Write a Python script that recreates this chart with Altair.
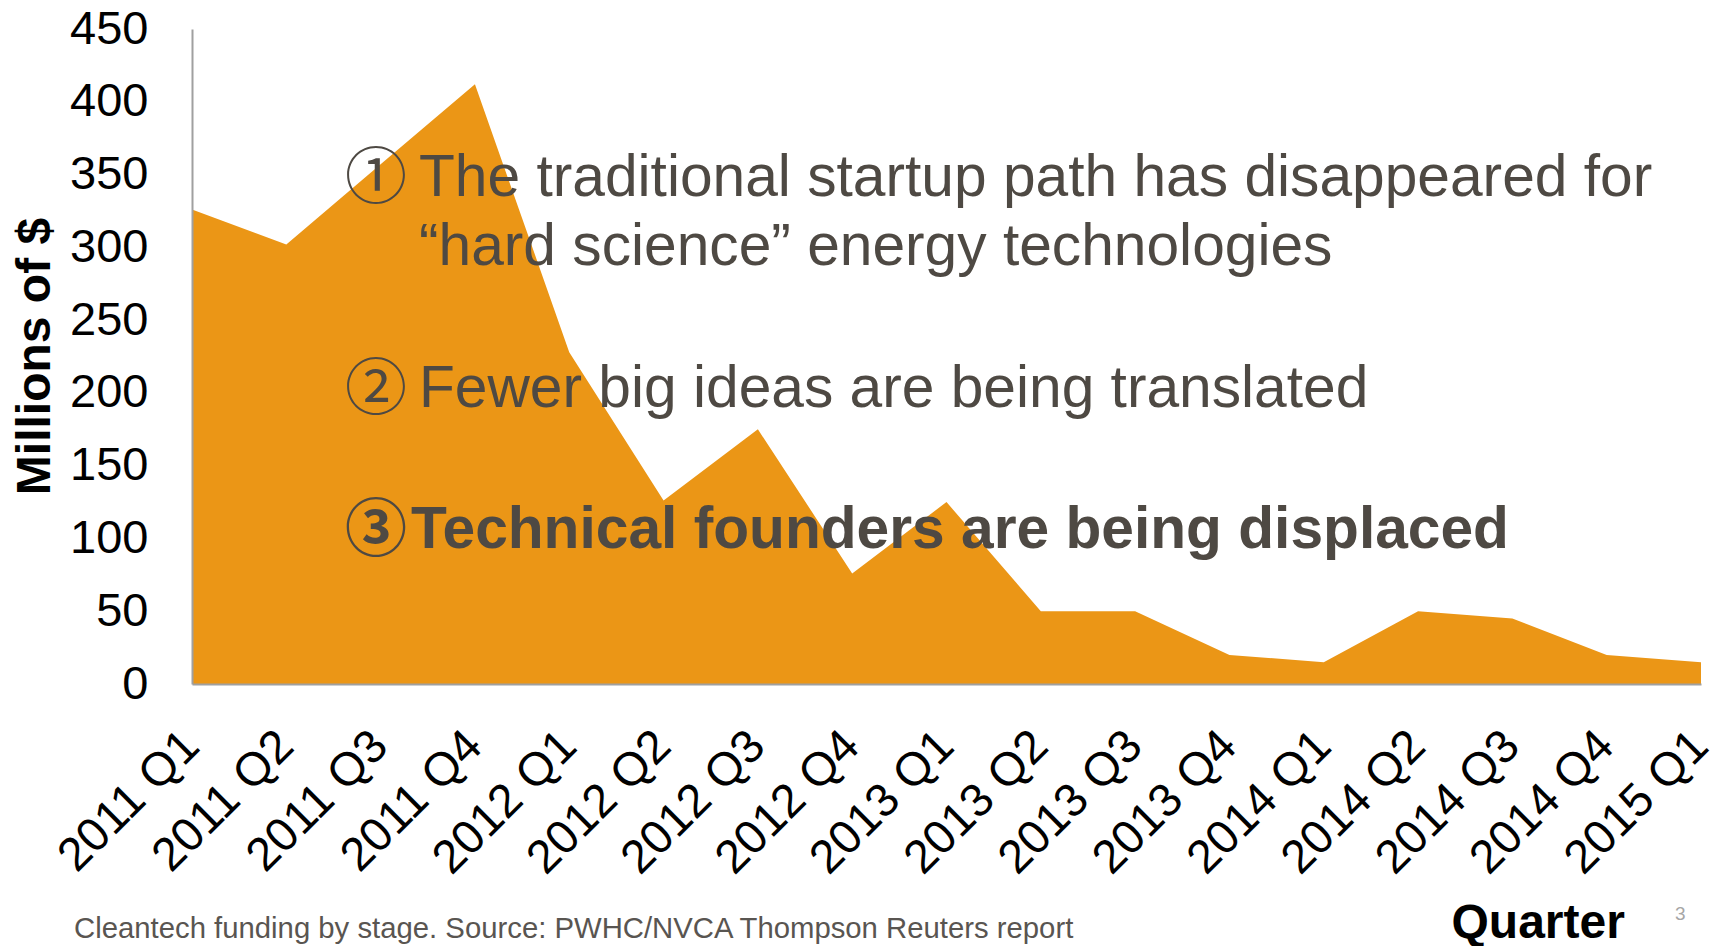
import altair as alt
import pandas as pd

quarters = ["2011 Q1", "2011 Q2", "2011 Q3", "2011 Q4",
            "2012 Q1", "2012 Q2", "2012 Q3", "2012 Q4",
            "2013 Q1", "2013 Q2", "2013 Q3", "2013 Q4",
            "2014 Q1", "2014 Q2", "2014 Q3", "2014 Q4",
            "2015 Q1"]
funding = [326, 302, 357, 412, 228, 126, 175, 76, 125, 50, 50, 20, 15, 50, 45, 20, 15]
y_ticks = [0, 50, 100, 150, 200, 250, 300, 350, 400, 450]

line1 = "The traditional startup path has disappeared for"
line2 = "\u201chard science\u201d energy technologies"
line3 = "Fewer big ideas are being translated"
line4 = "Technical founders are being displaced"
circles = ["\u2460", "\u2461", "\u2462"]
footer = "Cleantech funding by stage. Source: PWHC/NVCA Thompson Reuters report"
page_no = "3"
x_title = "Quarter"
y_title = "Millions of $"

df = pd.DataFrame({"quarter": quarters, "funding": funding})

FONT = "Liberation Sans"
ORANGE = "#EB9616"
TEXT = "#4E4943"
W, H = 1509, 655

area = alt.Chart(df).mark_area(color=ORANGE, opacity=1).encode(
    x=alt.X("quarter:O", sort=quarters,
            scale=alt.Scale(type="point", padding=0),
            axis=alt.Axis(title=x_title, labelAngle=315, labelAlign="right",
                          labelBaseline="top", labelFont=FONT, labelFontSize=47,
                          labelColor="#000000", labelPadding=38, labelOffset=-17,
                          labelLimit=0,
                          ticks=False, tickSize=0, domainColor="#A0A0A0",
                          domainWidth=2, grid=False, zindex=1,
                          titleFont=FONT, titleFontSize=48, titleFontWeight="bold",
                          titleColor="#000000", titleAlign="left",
                          titleBaseline="alphabetic", titleX=1259, titleY=253,
                          labelOverlap=False)),
    y=alt.Y("funding:Q", scale=alt.Scale(domain=[0, 450], nice=False, zero=True),
            axis=alt.Axis(title=y_title, values=y_ticks, labelFont=FONT,
                          labelFontSize=47, labelColor="#000000", labelPadding=44,
                          ticks=False, tickSize=0, domainColor="#A0A0A0",
                          domainWidth=2, grid=False, zindex=1,
                          titleFont=FONT, titleFontSize=48, titleFontWeight="bold",
                          titleColor="#000000", titleAngle=270, titleAlign="center",
                          titleBaseline="middle", titleX=-157, titleY=327)),
)


def label(text, x, y, size, color=TEXT, weight="normal", font=FONT, align="left"):
    return alt.Chart(pd.DataFrame({"t": [text]})).mark_text(
        font=font, fontSize=size, fontWeight=weight, color=color,
        align=align, baseline="alphabetic"
    ).encode(text="t:N", x=alt.value(x), y=alt.value(y))


layers = [
    area,
    label(line1, 227, 167, 58.7),
    label(line2, 227, 236, 58.7),
    label(line3, 227, 378, 58.7),
    label(line4, 219, 519, 58.7, weight="bold"),
    label(circles[0], 184, 170, 62, font="Noto Sans CJK JP", align="center"),
    label(circles[1], 184, 381, 62, font="Noto Sans CJK JP", align="center"),
    label(circles[2], 184, 522, 62, font="Noto Sans CJK JP", align="center", weight="bold"),
    label(footer, -118, 909, 29.3, color="#595551"),
    label(page_no, 1483, 891, 19, color="#A6A6A6"),
]

chart = alt.layer(*layers).properties(
    width=W, height=H,
    autosize=alt.AutoSizeParams(type="none"),
    padding={"left": 192, "top": 29, "right": 18, "bottom": 262},
    background="white",
).configure_view(stroke=None)

chart.save("out.html", embed_options={"renderer": "svg", "actions": False})
